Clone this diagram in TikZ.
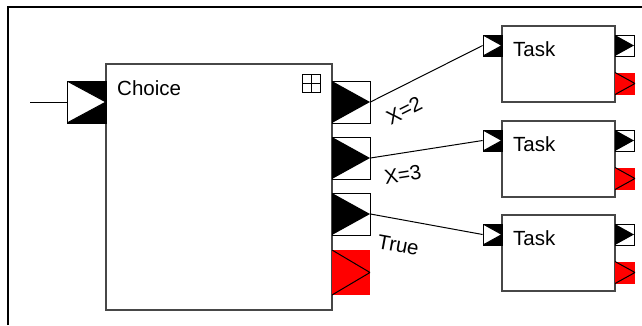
\documentclass[tikz,border=0pt]{standalone}
\usepackage{fontspec}
\setmainfont{Liberation Sans}
\begin{document}
\begin{tikzpicture}[x=1pt,y=-1pt,
  lbl/.style={font=\fontsize{20.5}{24}\selectfont, inner sep=0pt},
  box/.style={rectangle, draw=black!72, line width=1.2pt, fill=white, inner sep=0pt},
  conn/.style={draw=black, line width=1pt},
  bigport/.style={minimum width=38pt, minimum height=42pt},
  smallport/.style={minimum width=19pt, minimum height=21pt},
  inport/.style={rectangle, inner sep=0pt, fill=black, draw=black, line width=0.8pt,
    path picture={\filldraw[fill=white,draw=black,line width=1pt]
      (path picture bounding box.north west) -- (path picture bounding box.east)
      -- (path picture bounding box.south west) -- cycle;}},
  outport/.style={rectangle, inner sep=0pt, fill=white, draw=black, line width=0.8pt,
    path picture={\fill[black]
      (path picture bounding box.north west) -- (path picture bounding box.east)
      -- (path picture bounding box.south west) -- cycle;}},
  errport/.style={rectangle, inner sep=0pt, fill=red, draw=none,
    path picture={\draw[black,line width=1pt]
      (path picture bounding box.north west) -- (path picture bounding box.east)
      -- (path picture bounding box.south west);}},
  gridicon/.style={rectangle, draw=black, line width=0.8pt, inner sep=0pt, minimum size=18pt,
    path picture={\draw[line width=0.8pt] (path picture bounding box.north) -- (path picture bounding box.south)
      (path picture bounding box.west) -- (path picture bounding box.east);}},
  frame/.style={draw=black, line width=1.6pt}
]
\useasboundingbox (0,0) rectangle (642,325);
\coordinate (fbl) at (8,325);
\coordinate (ftl) at (8,7);
\coordinate (ftr) at (642,7);
\draw[frame] (fbl) -- (ftl) -- (ftr);

% Choice
\node[box, minimum width=226pt, minimum height=246pt] (choice) at (219,187) {};
\node[lbl, anchor=base west] (choicet) at (117,95) {Choice};
\node[gridicon] (grid) at (311,83) {};
\node[inport, minimum width=39pt, minimum height=42pt] (cin) at (86.5,102) {};
\coordinate (src) at (30,102);
\draw[conn] (src) -- (cin.west);
\node[outport, bigport] (co1) at (351,102) {};
\node[outport, bigport] (co2) at (351,158) {};
\node[outport, bigport] (co3) at (351,214) {};
\node[errport, bigport, minimum height=45pt] (cerr) at (351,272.5) {};

% Tasks
\foreach \i/\t in {1/26,2/121,3/215}{
  \node[box, minimum width=113pt, minimum height=76pt] (task\i) at (558.5,\t+38) {};
  \node[lbl, anchor=base west] (taskt\i) at (513,\t+30) {Task};
  \node[inport, smallport] (ti\i) at (492.5,\t+19.5) {};
  \node[outport, smallport] (to\i) at (624.5,\t+19.5) {};
  \node[errport, smallport, minimum width=20pt, minimum height=22pt] (te\i) at (625,\t+57.5) {};
}

% Connectors
\draw[conn] (co1.east) -- (ti1.west) node[lbl, sloped, pos=0.21, below=15pt] {X=2};
\draw[conn] (co2.east) -- (ti2.west) node[lbl, sloped, pos=0.26, below=13.5pt] {X=3};
\draw[conn] (co3.east) -- (ti3.west) node[lbl, sloped, pos=0.29, below=18pt] {True};
\end{tikzpicture}
\end{document}
